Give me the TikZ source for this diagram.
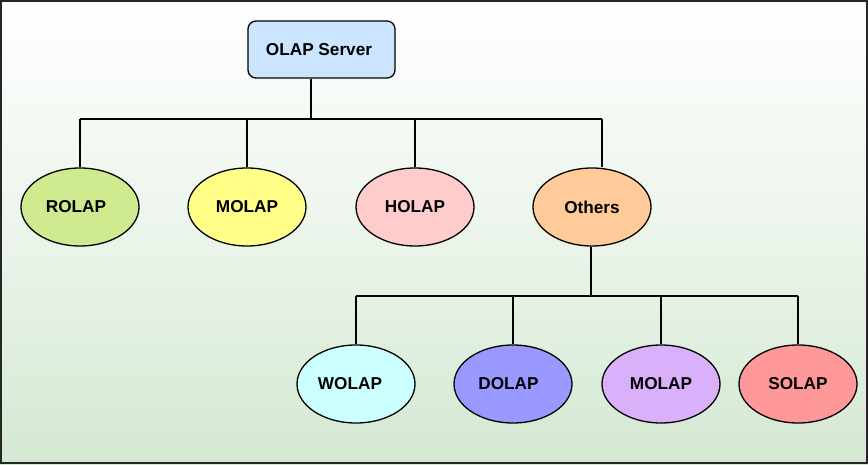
\documentclass[tikz,border=0pt]{standalone}
\usepackage{fontspec}
\setmainfont{Liberation Sans}
\usetikzlibrary{shapes.geometric}
\definecolor{bgbot}{RGB}{212,232,210}
\definecolor{cserver}{RGB}{204,229,255}
\definecolor{crolap}{RGB}{208,234,143}
\definecolor{cmolap}{RGB}{255,255,136}
\definecolor{cholap}{RGB}{255,204,204}
\definecolor{cothers}{RGB}{255,204,153}
\definecolor{cwolap}{RGB}{204,255,255}
\definecolor{cdolap}{RGB}{153,153,255}
\definecolor{cmolapb}{RGB}{218,176,251}
\definecolor{csolap}{RGB}{255,153,153}
\newcommand{\lbl}[2]{#1\kern#2pt}
\tikzset{
  ov/.style={ellipse, draw=black, line width=1.3pt, minimum width=118pt, minimum height=78pt, inner sep=0pt, font=\fontsize{17.2}{20}\selectfont\bfseries},
  boxnode/.style={draw=black, line width=1.3pt, rounded corners=8pt, minimum width=147pt, minimum height=57pt, inner sep=0pt, font=\fontsize{17.2}{20}\selectfont\bfseries},
  link/.style={draw=black, line width=1.3pt}
}
\begin{document}
\begin{tikzpicture}[x=1pt,y=1pt]
\useasboundingbox (0,0) rectangle (868,464);
\shade[top color=white, bottom color=bgbot, middle color=white!55!bgbot] (0,0) rectangle (868,464);
\draw[line width=2pt, draw=black!85] (1,1) rectangle (867,463);
% nodes
\node[boxnode, fill=cserver] (srv) at (321.5,414.5) {\lbl{OLAP Server}{5}};
\node[ov, fill=crolap] (rolap) at (80,257) {\lbl{ROLAP}{8}};
\node[ov, fill=cmolap] (molap) at (247,257) {MOLAP};
\node[ov, fill=cholap] (holap) at (415,257) {HOLAP};
\node[ov, fill=cothers] (others) at (592,257) {Others};
\node[ov, fill=cwolap] (wolap) at (356,80) {\lbl{WOLAP}{12}};
\node[ov, fill=cdolap] (dolap) at (513,80) {\lbl{DOLAP}{9}};
\node[ov, fill=cmolapb] (molapb) at (661,80) {MOLAP};
\node[ov, fill=csolap] (solap) at (798,80) {SOLAP};
% bus coordinates
\coordinate (b1) at (311,345);
\coordinate (b2) at (591,168);
% connectors level 1
\draw[link] (srv.south -| b1) -- (b1);
\draw[link] (rolap.north |- b1) -- (602,345);
\draw[link] (rolap.north |- b1) -- (rolap.north);
\draw[link] (molap.north |- b1) -- (molap.north);
\draw[link] (holap.north |- b1) -- (holap.north);
\draw[link] (602,345) -- (others.north -| 602,0);
% connectors level 2
\draw[link] (others.south -| b2) -- (b2);
\draw[link] (wolap.north |- b2) -- (solap.north |- b2);
\draw[link] (wolap.north |- b2) -- (wolap.north);
\draw[link] (dolap.north |- b2) -- (dolap.north);
\draw[link] (molapb.north |- b2) -- (molapb.north);
\draw[link] (solap.north |- b2) -- (solap.north);
\end{tikzpicture}
\end{document}
